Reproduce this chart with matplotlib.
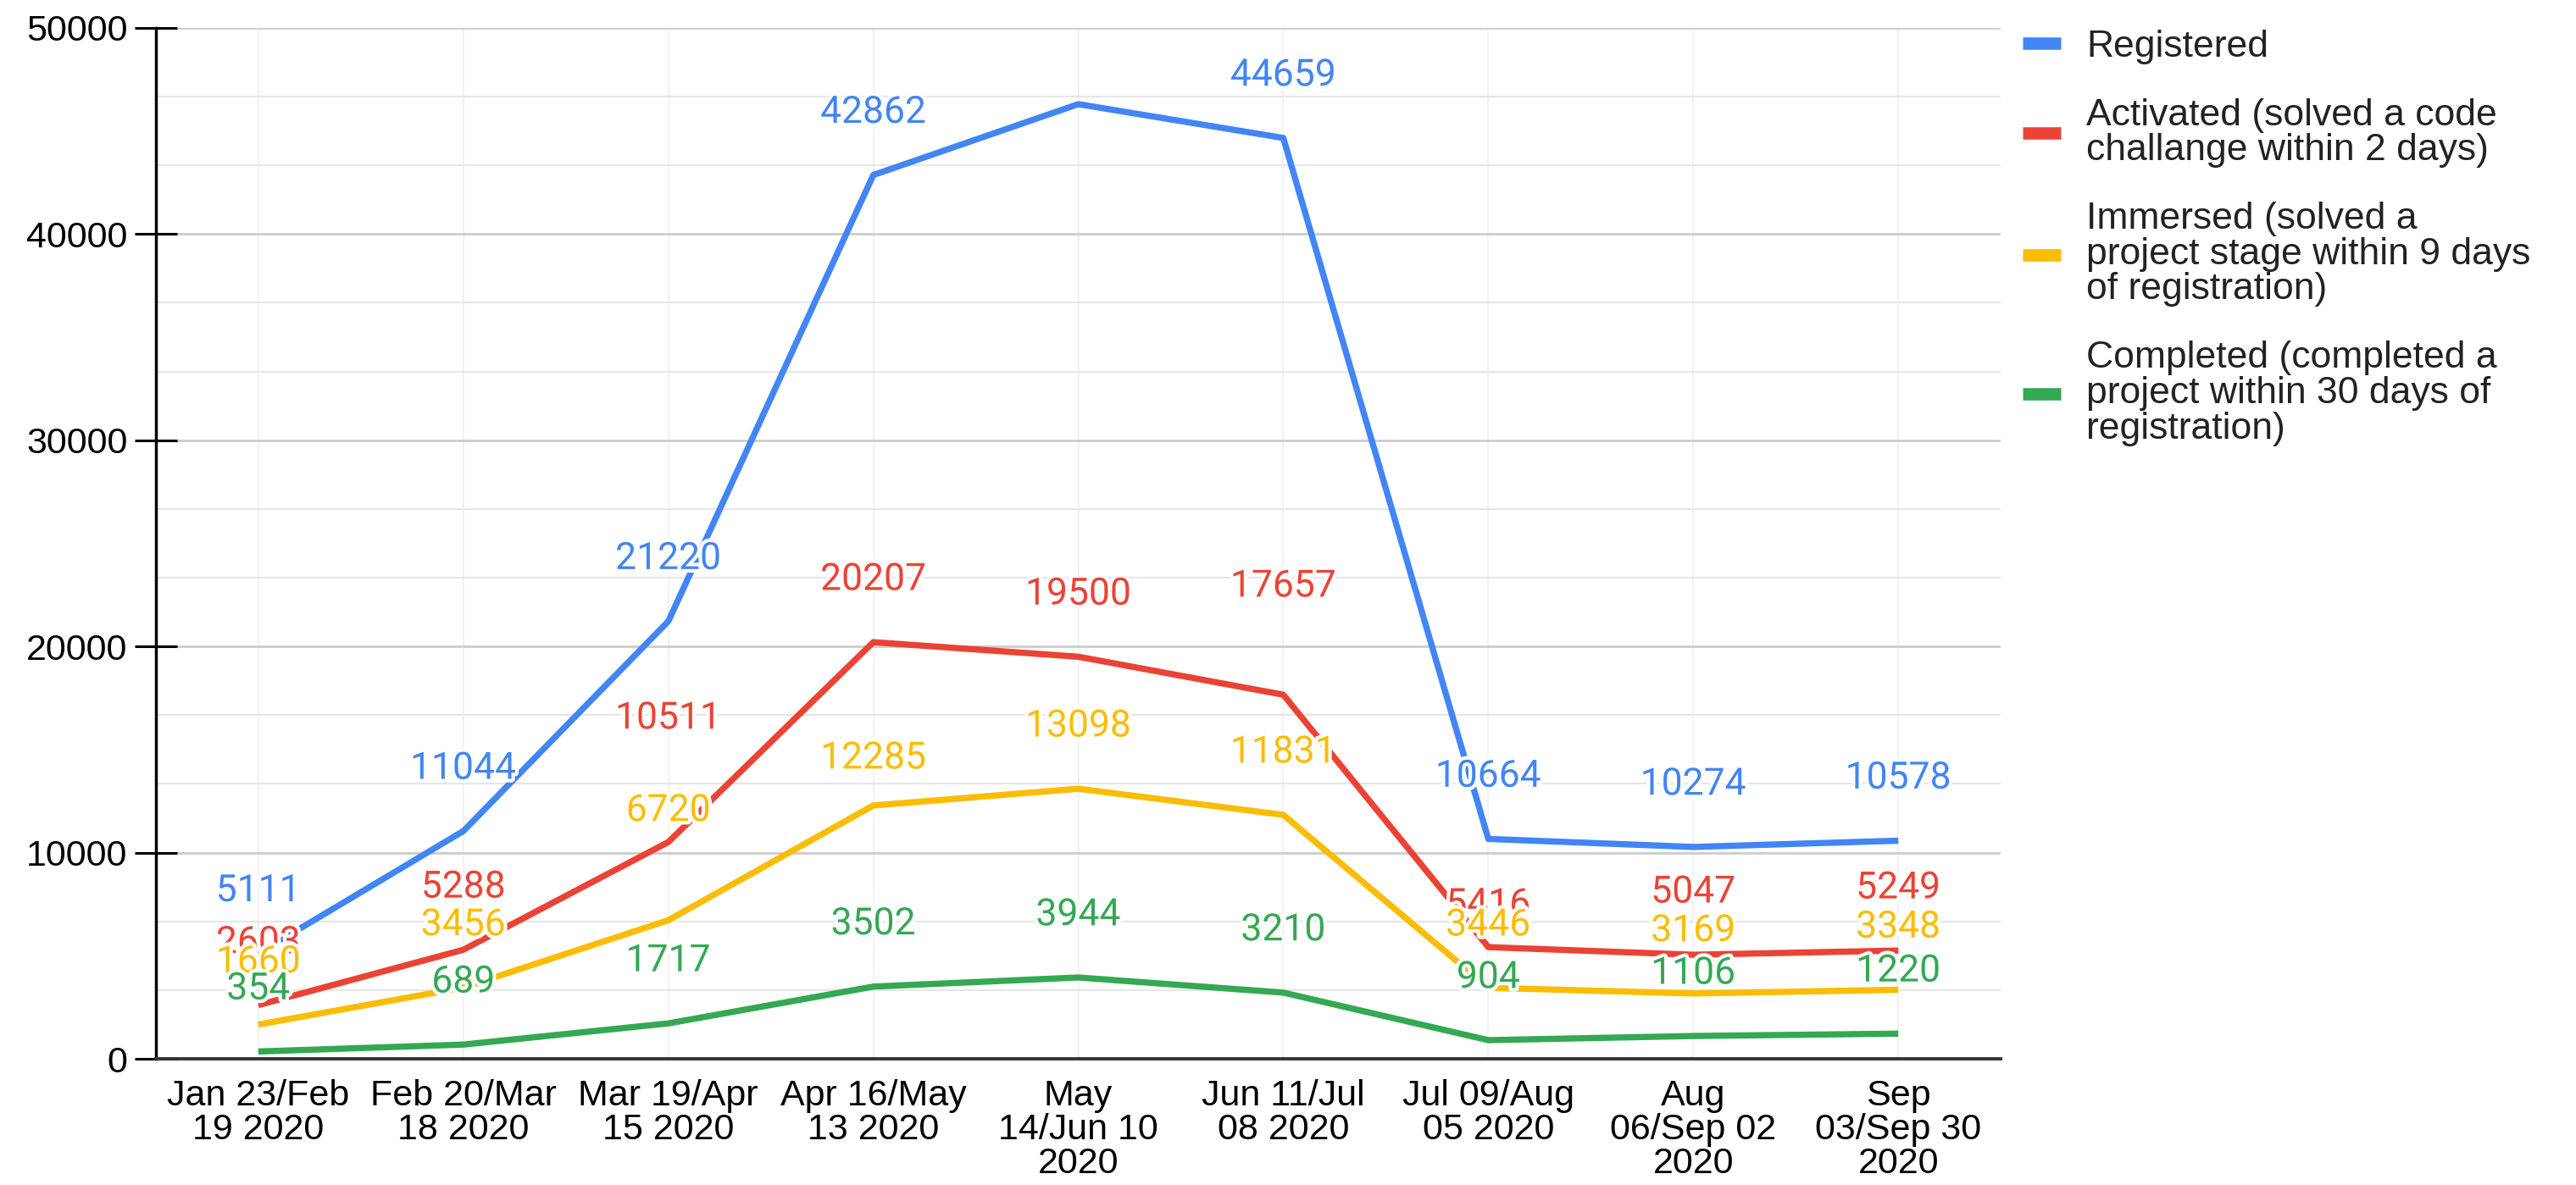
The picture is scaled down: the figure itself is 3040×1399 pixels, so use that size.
import matplotlib
matplotlib.use("Agg")
import matplotlib.pyplot as plt
import matplotlib.patheffects as pe
from matplotlib.lines import Line2D
from matplotlib.ticker import MultipleLocator

# ---- data -------------------------------------------------------------
periods = [
    "Jan 23/Feb\n19 2020", "Feb 20/Mar\n18 2020", "Mar 19/Apr\n15 2020",
    "Apr 16/May\n13 2020", "May\n14/Jun 10\n2020", "Jun 11/Jul\n08 2020",
    "Jul 09/Aug\n05 2020", "Aug\n06/Sep 02\n2020", "Sep\n03/Sep 30\n2020",
]
registered = [5111, 11044, 21220, 42862, 46300, 44659, 10664, 10274, 10578]
activated = [2603, 5288, 10511, 20207, 19500, 17657, 5416, 5047, 5249]
immersed = [1660, 3456, 6720, 12285, 13098, 11831, 3446, 3169, 3348]
completed = [354, 689, 1717, 3502, 3944, 3210, 904, 1106, 1220]

series_names = [
    "Registered",
    "Activated (solved a code\nchallange within 2 days)",
    "Immersed (solved a\nproject stage within 9 days\nof registration)",
    "Completed (completed a\nproject within 30 days of\nregistration)",
]
series_values = [registered, activated, immersed, completed]
colors = ["#4285F4", "#EA4335", "#FBBC04", "#34A853"]

# point labels that are hidden / nudged: (series idx, point idx) -> offset in pt
hidden_labels = {(0, 4)}
label_offsets = {(1, 2): 105, (1, 5): 92, (2, 2): 93, (2, 3): 40, (1, 6): 36}
default_offset = 53

# ---- plot -------------------------------------------------------------
fig = plt.figure(figsize=(30.4, 13.99), dpi=100)
ax = fig.add_axes([0.0605, 0.1065, 0.7162, 0.870])

x = list(range(len(periods)))
for vals, col in zip(series_values, colors):
    ax.plot(x, vals, color=col, lw=5.3, zorder=3, solid_capstyle="butt")

for si, (vals, col) in enumerate(zip(series_values, colors)):
    for i, v in enumerate(vals):
        if (si, i) in hidden_labels:
            continue
        off = label_offsets.get((si, i), default_offset)
        ax.annotate(str(v), xy=(i, v), xytext=(0, off), textcoords="offset points",
                    ha="center", va="center", fontsize=32, color=col,
                    family="Roboto", zorder=5 + si,
                    path_effects=[pe.withStroke(linewidth=6, foreground="white")])

ax.set_xlim(-0.5, len(periods) - 0.5)
ax.set_ylim(0, 50000)
ax.set_xticks(x)
ax.set_xticklabels(periods, fontsize=31, family="Liberation Sans", linespacing=1.0)
ax.yaxis.set_major_locator(MultipleLocator(10000))
ax.yaxis.set_minor_locator(MultipleLocator(10000 / 3))
ax.tick_params(axis="y", labelsize=31, direction="inout", length=36, width=2.2, pad=6)
ax.tick_params(axis="y", which="minor", length=0)
ax.tick_params(axis="x", length=0, pad=17)
for lab in ax.get_yticklabels():
    lab.set_family("Liberation Sans")

ax.grid(axis="y", which="major", color="#cccccc", lw=2)
ax.grid(axis="y", which="minor", color="#e6e6e6", lw=1.5)
ax.grid(axis="x", color="#f0f0f0", lw=1.2)
ax.set_axisbelow(True)

for s in ("top", "right"):
    ax.spines[s].set_visible(False)
ax.spines["left"].set_linewidth(2.5)
ax.spines["left"].set_color("black")
ax.spines["bottom"].set_linewidth(2.8)
ax.spines["bottom"].set_color("#333333")

handles = [Line2D([0], [0], color=c, lw=10.5, solid_capstyle="butt") for c in colors]
leg = fig.legend(handles, series_names, loc="upper left", bbox_to_anchor=(0.7795, 0.988),
                 frameon=False, handlelength=1.0, handletextpad=0.68, labelspacing=0.9,
                 borderaxespad=0, prop={"family": "Liberation Sans", "size": 32})
for t in leg.get_texts():
    t.set_linespacing(1.02)
    t.set_color("#222222")

fig.savefig("out.png", dpi=100, facecolor="white")
